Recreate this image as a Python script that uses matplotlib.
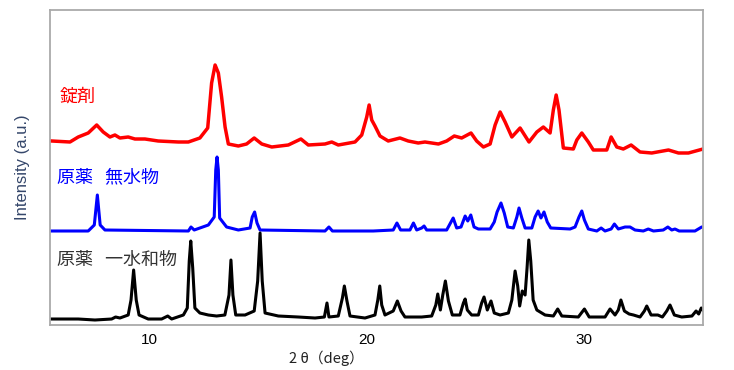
import matplotlib
matplotlib.use("Agg")
import matplotlib.pyplot as plt

plt.rcParams['font.family'] = ['Liberation Sans', 'Noto Sans CJK JP', 'DejaVu Sans']

# 錠剤 (tablet) - 2theta / intensity
tab_x = [5.51, 6.35, 6.73, 7.19, 7.58, 7.88, 8.19, 8.42, 8.65, 9.03, 9.34, 9.80, 10.41,
         11.34, 11.80, 12.33, 12.69, 12.87, 13.03, 13.18, 13.33, 13.49, 13.64, 14.10,
         14.48, 14.83, 15.18, 15.64, 16.40, 16.98, 17.32, 18.09, 18.40, 18.70, 19.47,
         19.78, 20.01, 20.12, 20.24, 20.39, 20.62, 21.00, 21.54, 21.92, 22.38, 22.69,
         23.31, 23.69, 24.04, 24.38, 24.81, 25.07, 25.38, 25.69, 25.92, 26.15, 26.38,
         26.69, 27.07, 27.48, 27.84, 28.14, 28.45, 28.60, 28.73, 28.86, 29.06, 29.52,
         29.68, 29.91, 30.21, 30.44, 31.06, 31.26, 31.52, 31.82, 32.18, 32.59, 33.13,
         33.90, 34.36, 34.82, 35.49]
tab_y = [184, 183, 188, 192, 200, 193, 188, 190, 187, 188, 186, 186, 184,
         183, 183, 187, 197, 242, 260, 252, 228, 198, 181, 179,
         181, 187, 181, 178, 180, 186, 180, 181, 183, 180, 183,
         190, 208, 220, 205, 199, 189, 184, 187, 184, 182, 183,
         181, 184, 189, 187, 192, 184, 178, 181, 200, 213, 203,
         188, 197, 183, 193, 198, 192, 215, 230, 215, 177, 176,
         185, 192, 183, 175, 175, 188, 178, 176, 180, 173, 172,
         175, 172, 172, 176]

# 原薬 無水物 (anhydrate)
anh_x = [5.51, 7.19, 7.47, 7.61, 7.74, 7.96, 11.80, 11.92, 12.07, 12.72, 12.99, 13.06,
         13.12, 13.18, 13.24, 13.56, 14.10, 14.64, 14.74, 14.85, 14.96, 15.10, 18.09,
         18.27, 18.43, 20.31, 21.23, 21.40, 21.57, 22.00, 22.16, 22.31, 22.54, 22.65,
         22.77, 23.69, 23.89, 23.99, 24.15, 24.35, 24.54, 24.66, 24.80, 24.95, 25.15,
         25.69, 25.88, 26.01, 26.19, 26.34, 26.50, 26.76, 26.92, 27.02, 27.15, 27.30,
         27.61, 27.76, 27.90, 28.03, 28.17, 28.32, 28.48, 29.37, 29.60, 29.78, 29.91,
         30.03, 30.21, 30.60, 30.80, 30.98, 31.26, 31.41, 31.59, 31.90, 32.13, 32.36,
         32.74, 32.97, 33.21, 33.66, 33.87, 34.05, 34.20, 34.39, 35.12, 35.43, 35.49]
anh_y = [94, 94, 100, 130, 100, 95, 94, 98, 95, 100, 108, 155,
         168, 155, 107, 98, 95, 97, 108, 113, 102, 95, 94,
         98, 94, 94, 95, 102, 95, 95, 102, 95, 97, 99,
         95, 95, 103, 107, 97, 98, 109, 104, 110, 98, 96,
         96, 103, 113, 122, 112, 98, 97, 108, 117, 107, 97,
         97, 108, 114, 107, 113, 103, 97, 96, 98, 108, 114,
         105, 96, 94, 97, 94, 96, 101, 96, 98, 98, 95,
         94, 96, 94, 95, 98, 95, 96, 94, 94, 98, 98]

# 原薬 一水和物 (monohydrate)
mono_x = [5.51, 6.73, 7.50, 8.27, 8.45, 8.65, 9.03, 9.16, 9.28, 9.40, 9.53, 9.95,
          10.57, 10.85, 11.03, 11.57, 11.75, 11.84, 11.91, 12.00, 12.10, 12.33, 12.72,
          13.10, 13.48, 13.67, 13.76, 13.85, 13.98, 14.41, 14.83, 14.99, 15.10, 15.20,
          15.33, 15.94, 16.86, 17.63, 18.06, 18.18, 18.27, 18.70, 18.89, 18.98, 19.10,
          19.24, 19.93, 20.39, 20.52, 20.61, 20.70, 20.85, 21.23, 21.42, 21.59, 21.77,
          22.54, 23.00, 23.19, 23.28, 23.40, 23.51, 23.63, 23.77, 23.95, 24.30, 24.46,
          24.54, 24.64, 24.84, 25.15, 25.30, 25.41, 25.56, 25.73, 25.88, 26.15, 26.53,
          26.69, 26.84, 26.96, 27.05, 27.17, 27.30, 27.39, 27.47, 27.56, 27.67, 27.84,
          28.22, 28.60, 28.80, 28.99, 29.75, 30.03, 30.25, 30.98, 31.21, 31.44, 31.59,
          31.71, 31.87, 32.09, 32.29, 32.59, 32.79, 32.90, 33.10, 33.41, 33.62, 33.82,
          33.97, 34.17, 34.51, 34.98, 35.17, 35.29, 35.41, 35.49]
mono_y = [6, 6, 5, 6, 8, 7, 10, 25, 55, 25, 10, 6,
          6, 9, 6, 10, 17, 64, 84, 57, 17, 12, 10,
          9, 10, 30, 65, 30, 10, 10, 14, 44, 92, 44,
          12, 9, 8, 7, 8, 22, 8, 9, 27, 39, 24,
          9, 7, 10, 25, 39, 20, 10, 14, 24, 14, 8,
          8, 9, 20, 31, 15, 30, 44, 24, 10, 10, 22,
          26, 15, 10, 10, 22, 28, 15, 24, 12, 10, 12,
          25, 54, 39, 19, 34, 30, 57, 85, 64, 25, 15,
          10, 9, 16, 9, 8, 16, 8, 8, 16, 10, 15,
          25, 14, 11, 10, 8, 14, 19, 10, 10, 8, 14,
          20, 10, 8, 9, 14, 11, 17, 15]

xticks = [10, 20, 30]

fig = plt.figure(figsize=(7.34, 3.70), dpi=100)
ax = fig.add_axes([0.0681, 0.1216, 0.8897, 0.8514])

ax.plot(tab_x, tab_y, color='#ff0000', lw=2.5, solid_joinstyle='round')
ax.plot(anh_x, anh_y, color='#0000ff', lw=2.2, solid_joinstyle='round')
ax.plot(mono_x, mono_y, color='#000000', lw=2.2, solid_joinstyle='round')

ax.set_xlim(5.43, 35.49)
ax.set_ylim(0, 315)

# sample labels
jp = ['Noto Sans CJK JP', 'DejaVu Sans']
ax.text(5.86, 228, '錠剤', color='#ff0000', fontsize=13, family=jp, va='center')
ax.text(5.75, 148, '原薬   無水物', color='#0000ff', fontsize=13, family=jp, va='center')
ax.text(5.77, 65, '原薬   一水和物', color='#333333', fontsize=13, family=jp, va='center')

ax.set_xticks(xticks)
ax.set_xticklabels([str(t) for t in xticks])
ax.set_yticks([])
ax.tick_params(axis='x', length=0, pad=6, labelsize=11)

for s in ax.spines.values():
    s.set_color('#aaaaaa')
    s.set_linewidth(1.3)

ax.set_ylabel('Intensity (a.u.)', fontsize=12, color='#34466a')
ax.yaxis.set_label_coords(-0.03, 0.5)

fig.text(326 / 734, 1 - 358 / 370, '2 θ（deg）', fontsize=10.5, family=jp,
         ha='center', va='center', color='#222222')

fig.savefig('out.png', dpi=100)
